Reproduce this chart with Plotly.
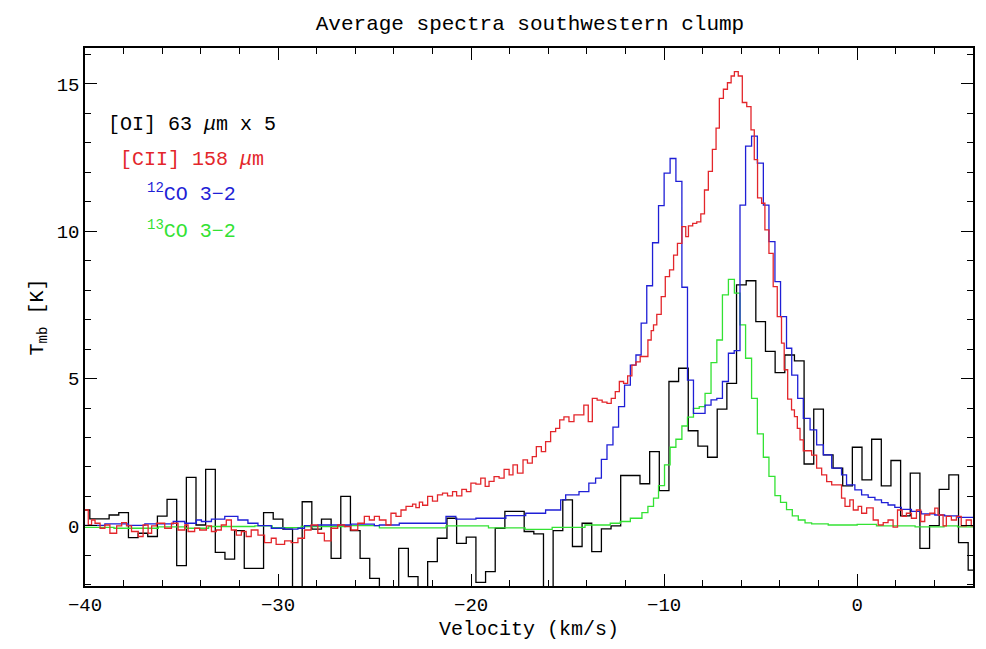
import numpy as np
import plotly.graph_objects as go

# ---------------- data ----------------
# [OI] 63 um x 5 (black), channel centres every 0.5 km/s
oi_vel = np.arange(-40.0, 6.01, 0.5)
oi_tmb = [0.54, 0.24, 0.24, 0.37, 0.45, -0.40, -0.25, -0.36, 0.33, 0.90,
          -1.35, 1.65, 0.03, 1.92, -0.90, -1.13, -0.16, -1.44, -1.44, 0.45,
          0.23, -0.11, -2.6, 0.82, -0.11, 0.23, -1.10, 1.00, -0.16, -1.10,
          -1.78, -2.1, -2.1, -0.76, -1.72, -2.3, -1.21, -0.42, 0.26, -0.59,
          -0.38, -1.92, -1.55, -0.08, 0.49, 0.49, -0.19, -0.27, -2.5, -0.16,
          0.88, -0.70, 0.09, -0.87, -0.10, 0.00, 1.71, 1.71, 1.43, 2.52,
          1.20, 4.90, 5.35, 3.23, 2.71, 2.33, 3.96, 4.84, 8.18, 8.32,
          6.93, 5.92, 5.20, 5.80, 5.60, 2.10, 3.96, 2.41, 1.96, 1.36,
          2.67, 1.56, 2.94, 1.36, 2.22, 0.34, 1.79, -0.76, 0.01, 1.24,
          1.73, -0.57, -1.50]

# [CII] 158 um (red): left edge of each step, value
cii_edge = [-40.0, -39.83, -39.66, -39.48, -39.22, -38.97, -38.71, -38.36, -38.1, -37.85,
            -37.59, -37.24, -36.99, -36.73, -36.55, -36.3, -35.87, -35.52, -35.18, -34.83,
            -34.66, -34.32, -34.06, -33.71, -33.45, -33.2, -32.94, -32.68, -32.42, -32.16,
            -31.9, -31.65, -31.39, -31.04, -30.7, -30.35, -30.1, -29.66, -29.32, -28.97,
            -28.63, -28.29, -27.94, -27.6, -27.25, -26.91, -26.56, -26.22, -25.87, -25.53,
            -25.27, -25.01, -24.75, -24.41, -24.15, -23.89, -23.63, -23.37, -23.03, -22.86,
            -22.68, -22.51, -22.25, -22.0, -21.74, -21.48, -21.22, -20.96, -20.75, -20.48,
            -20.24, -20.01, -19.75, -19.5, -19.27, -19.07, -18.81, -18.55, -18.29, -18.03,
            -17.83, -17.6, -17.31, -17.08, -16.83, -16.62, -16.36, -16.14, -15.88, -15.62,
            -15.41, -15.19, -14.93, -14.67, -14.41, -14.16, -13.93, -13.72, -13.47, -13.21,
            -12.96, -12.74, -12.53, -12.32, -12.1, -11.89, -11.67, -11.46, -11.24, -11.01,
            -10.84, -10.67, -10.55, -10.38, -10.15, -9.94, -9.72, -9.51, -9.31, -9.08,
            -8.88, -8.74, -8.52, -8.31, -8.1, -7.91, -7.71, -7.5, -7.31, -7.14,
            -6.93, -6.72, -6.53, -6.36, -6.16, -5.95, -5.72, -5.5, -5.33, -5.16,
            -4.95, -4.78, -4.57, -4.35, -4.14, -3.92, -3.78, -3.6, -3.4, -3.25,
            -3.1, -2.96, -2.79, -2.36, -2.1, -1.84, -1.58, -1.32, -0.81, -0.63,
            -0.38, -0.2, 0.05, 0.23, 0.49, 0.83, 1.09, 1.35, 1.6, 1.86,
            2.09, 2.33, 2.55, 2.81, 3.07, 3.29, 3.5, 3.76, 4.02, 4.19,
            4.45, 4.62, 4.88, 5.14, 5.39, 5.65, 5.91]
cii_tmb = [0.54, 0.03, 0.20, 0.09, -0.08, 0.03, -0.25, 0.00, 0.11, 0.00,
           -0.19, -0.36, 0.03, -0.25, 0.00, 0.09, -0.08, 0.09, -0.14, 0.03,
           -0.19, -0.08, -0.14, 0.00, -0.19, -0.14, 0.03, 0.20, -0.14, -0.31,
           -0.19, -0.36, -0.14, -0.31, -0.57, -0.42, -0.63, -0.51, -0.57, -0.42,
           -0.14, 0.03, -0.25, -0.51, -0.08, 0.03, -0.02, -0.14, 0.09, 0.32,
           0.20, 0.32, 0.20, 0.03, 0.43, 0.32, 0.54, 0.66, 0.74, 0.62,
           0.81, 0.70, 1.00, 0.84, 1.05, 1.11, 1.02, 1.16, 1.02, 1.24,
           1.16, 1.45, 1.42, 1.62, 1.34, 1.51, 1.67, 1.62, 1.92, 1.73,
           2.07, 1.79, 2.24, 2.13, 2.35, 2.69, 2.52, 2.86, 3.20, 3.31,
           3.60, 3.70, 3.54, 3.77, 3.77, 4.10, 3.54, 4.33, 4.27, 4.20,
           4.16, 4.33, 4.56, 4.90, 4.84, 5.09, 5.46, 5.57, 5.75, 5.75,
           6.31, 6.63, 6.82, 7.18, 7.78, 8.46, 8.69, 9.19, 9.59, 10.16,
           9.82, 10.18, 10.27, 10.32, 10.59, 11.40, 12.03, 12.78, 13.50, 14.51,
           14.82, 15.04, 15.27, 15.42, 15.27, 14.37, 14.23, 13.44, 12.43, 11.13,
           10.95, 10.05, 9.25, 8.12, 7.10, 6.20, 5.30, 4.30, 3.94, 3.71,
           3.31, 2.92, 2.55, 2.40, 1.96, 1.73, 1.50, 1.39, 0.94, 0.66,
           0.88, 0.54, 0.66, 0.43, 0.61, 0.20, 0.03, 0.11, 0.20, -0.04,
           0.54, 0.32, 0.43, 0.26, 0.54, 0.15, 0.37, 0.43, 0.60, 0.37,
           0.00, 0.32, 0.20, 0.32, 0.00, 0.20, 0.00]

# 12CO 3-2 (blue): left edge of each step, value
co12_edge = [-40.0, -38.97, -37.76, -36.9, -35.43, -34.83, -34.23, -33.97, -33.45, -32.76,
             -32.08, -31.56, -31.04, -30.35, -29.66, -28.97, -28.63, -27.94, -26.22, -25.01,
             -24.75, -23.72, -21.3, -20.79, -19.75, -18.2, -17.17, -16.14, -15.36, -15.1,
             -14.41, -13.9, -13.55, -13.39, -13.25, -12.96, -12.65, -12.36, -12.05, -11.75,
             -11.46, -11.19, -10.9, -10.6, -10.29, -10.0, -9.69, -9.39, -9.08, -8.79,
             -8.48, -7.88, -7.57, -7.27, -6.98, -6.67, -6.37, -6.07, -5.78, -5.47,
             -5.17, -4.86, -4.57, -4.26, -3.97, -3.66, -3.39, -3.08, -2.79, -2.44,
             -2.1, -1.75, -1.32, -0.81, -0.55, -0.12, 0.23, 0.57, 0.92, 1.26,
             1.6, 1.95, 2.29, 2.81, 3.33, 4.02, 4.53, 5.22]
co12_tmb = [0.02, 0.07, 0.02, 0.07, 0.15, 0.09, 0.20, 0.15, 0.23, 0.32,
            0.20, 0.09, 0.01, -0.08, -0.11, -0.08, 0.01, 0.03, 0.06, 0.01,
            0.03, 0.09, 0.32, 0.23, 0.26, 0.35, 0.43, 0.54, 0.88, 1.05,
            1.16, 1.45, 1.62, 1.62, 2.26, 2.75, 3.35, 4.05, 4.78, 5.46,
            5.80, 6.88, 8.15, 9.61, 10.87, 11.97, 12.47, 11.69, 8.10, 4.95,
            3.82, 4.10, 4.28, 4.33, 4.90, 5.86, 5.95, 10.89, 12.89, 13.23,
            12.31, 10.89, 9.65, 8.29, 7.10, 6.03, 5.12, 4.33, 3.65, 3.26,
            2.75, 2.41, 1.96, 1.73, 1.39, 1.22, 1.05, 0.97, 0.88, 0.79,
            0.71, 0.63, 0.56, 0.49, 0.41, 0.37, 0.34, 0.29]

# 13CO 3-2 (green): left edge of each step, value
co13_edge = [-40.0, -38.5, -36.2, -34.8, -33.6, -31.2, -30.3, -28.8, -26.5, -24.75,
             -21.3, -19.1, -17.2, -15.8, -14.1, -13.39, -12.79, -12.27, -11.75, -11.15,
             -10.84, -10.55, -10.29, -9.98, -9.69, -9.39, -9.08, -8.79, -8.48, -8.18,
             -7.88, -7.57, -7.27, -6.98, -6.67, -6.36, -6.07, -5.78, -5.47, -5.17,
             -4.86, -4.57, -4.26, -3.97, -3.66, -3.36, -3.05, -2.7, -2.36, -1.5,
             0.0, 1.0, 2.0, 3.0, 4.5, 5.2]
co13_tmb = [-0.05, -0.08, -0.03, -0.08, -0.02, 0.00, -0.06, -0.02, 0.01, -0.07,
            0.00, -0.07, -0.12, -0.05, 0.03, 0.03, 0.09, 0.15, 0.26, 0.45,
            0.66, 0.94, 1.37, 2.07, 2.67, 2.94, 3.39, 3.69, 3.99, 4.05,
            4.50, 5.54, 6.31, 7.84, 8.37, 7.90, 6.82, 5.69, 4.33, 3.12,
            2.33, 1.68, 1.03, 0.80, 0.55, 0.34, 0.20, 0.10, 0.07, 0.03,
            0.05, 0.00, 0.00, -0.03, 0.00, -0.03]

x_end = 6.0
x_range = [-40.0, 6.0]
y_range = [-2.04, 16.22]

legend_labels = ["[OI] 63 <i>μ</i>m x 5", "[CII] 158 <i>μ</i>m",
                 "<sup>12</sup>CO 3−2", "<sup>13</sup>CO 3−2"]
legend_y = [13.64, 12.42, 11.3, 10.04]

# ---------------- style ----------------
C_BLACK = "#000000"
C_RED = "#e3262b"
C_BLUE = "#1f1fd6"
C_GREEN = "#33e233"
FONT = "Liberation Mono"

fig = go.Figure()

def step_trace(edges, vals, color):
    xs = list(edges) + [x_end]
    ys = list(vals) + [vals[-1]]
    return go.Scatter(x=xs, y=ys, mode="lines", line=dict(color=color, width=1.3, shape="hv"),
                      showlegend=False, hoverinfo="skip")

fig.add_trace(go.Scatter(x=oi_vel, y=oi_tmb, mode="lines",
                         line=dict(color=C_BLACK, width=1.3, shape="hvh"),
                         showlegend=False, hoverinfo="skip"))
fig.add_trace(step_trace(co13_edge, co13_tmb, C_GREEN))
fig.add_trace(step_trace(co12_edge, co12_tmb, C_BLUE))
fig.add_trace(step_trace(cii_edge, cii_tmb, C_RED))

for lab, yy, col in zip(legend_labels, legend_y, [C_BLACK, C_RED, C_BLUE, C_GREEN]):
    fig.add_annotation(x=-34.47, y=yy, xref="x", yref="y", text=lab, showarrow=False,
                       xanchor="center", yanchor="middle",
                       font=dict(family=FONT, size=20, color=col))

axis_common = dict(showgrid=False, zeroline=False, showline=True, linecolor="black",
                   linewidth=1.5, mirror="allticks", ticks="inside", ticklen=12,
                   tickwidth=1.2, tickcolor="black",
                   tickfont=dict(family=FONT, size=19, color="black"))

fig.update_xaxes(range=x_range, dtick=10, tick0=0,
                 minor=dict(ticks="inside", dtick=2, ticklen=6, tickwidth=1.2, tickcolor="black"),
                 title=dict(text="Velocity (km/s)", font=dict(family=FONT, size=20, color="black"),
                            standoff=5),
                 **axis_common)
fig.update_yaxes(range=y_range, dtick=5, tick0=0,
                 minor=dict(ticks="inside", dtick=1, ticklen=6, tickwidth=1.2, tickcolor="black"),
                 title=dict(text="T<sub>mb</sub> [K]", font=dict(family=FONT, size=20, color="black"),
                            standoff=8),
                 **axis_common)

fig.update_layout(
    width=986, height=649,
    margin=dict(l=85, r=11, t=48, b=63),
    paper_bgcolor="white", plot_bgcolor="white",
    title=dict(text="Average spectra southwestern clump", x=0.5375, xanchor="center",
               y=0.965, yanchor="middle", font=dict(family=FONT, size=21, color="black")),
)

fig.write_html("out.html")
